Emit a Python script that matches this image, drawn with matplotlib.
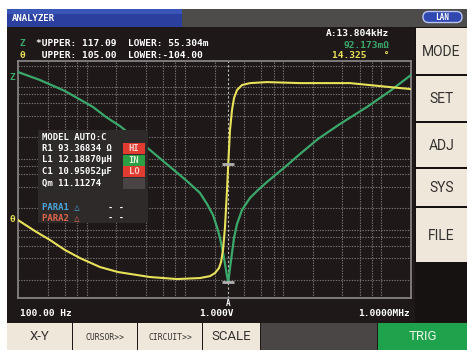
import matplotlib
matplotlib.use("Agg")
import matplotlib.pyplot as plt
from matplotlib.patches import Rectangle, FancyBboxPatch

# data
z_freq = [100, 167, 301, 580, 786, 1091, 1551, 2205, 3963, 5373, 7112, 8391, 9660, 10600,
          11380, 12210, 12790, 13400, 13804, 14380, 15070, 15800, 16950, 19050, 22960,
          27720, 34200, 52200, 74130, 113000, 189400, 356500, 611400, 1000000]
z_ohm = [82.0, 63.4, 44.4, 26.5, 19.2, 14.3, 9.73, 6.6, 3.35, 2.35, 1.65, 1.153, 0.808, 0.548,
         0.385, 0.240, 0.166, 0.113, 0.0922, 0.146, 0.237, 0.385, 0.604, 0.950, 1.40,
         1.81, 2.35, 3.81, 5.80, 9.42, 15.3, 26.5, 44.4, 74.5]

ph_freq = [100, 149, 212, 301, 428, 683, 1042, 2205, 4150, 7112, 8999, 10120, 11110, 11650,
           12210, 12790, 13410, 13804, 14380, 15070, 15800, 16950, 19050, 22960, 34200,
           74130, 239300, 610000, 1000000]
ph_deg = [-35.3, -45.0, -52.9, -61.7, -68.8, -76.7, -81.1, -85.5, -87.3, -86.4, -84.7, -82.0,
          -77.6, -72.3, -61.7, -41.4, -8.8, 14.3, 44.1, 61.7, 72.3, 79.4, 83.8, 85.5, 86.4,
          85.5, 85.5, 82.0, 80.2]

z_upper, z_lower = 117.09, 0.055304
ph_upper, ph_lower = 105.00, -104.00
cursor_f = 13804
cursor_z = 0.092173
cursor_ph = 14.325

model_lines = ["MODEL AUTO:C", "R1 93.36834 Ω", "L1 12.18870μH", "C1 10.95052μF", "Qm 11.11274"]
side_buttons = ["MODE", "SET", "ADJ", "SYS", "FILE"]

W, H = 467, 350
BG = "#1f1819"
GREEN = "#3aa86a"
YELLOW = "#e8e25a"
GRID = "#777373"
MONO = "DejaVu Sans Mono"
NARROW = ["Roboto", "DejaVu Sans"]

fig = plt.figure(figsize=(W / 100, H / 100), dpi=100)
fig.patch.set_facecolor("white")

# background / screen layer in pixel coordinates
bg = fig.add_axes([0, 0, 1, 1], zorder=0)
bg.set_xlim(0, W)
bg.set_ylim(H, 0)
bg.axis("off")


def rect(a, x0, y0, x1, y1, fc, ec="none", lw=0):
    a.add_patch(Rectangle((x0, y0), x1 - x0, y1 - y0, facecolor=fc, edgecolor=ec, linewidth=lw))


rect(bg, 7, 9, W, H, BG)
# title bar
rect(bg, 7, 9, 182, 27, "#2a3f9e")
rect(bg, 7, 9, 182, 14, "#3a55b8")
rect(bg, 182, 9, W, 27, "#4e4b4b")
bg.text(12, 18.5, "ANALYZER", color="white", fontsize=6.5, fontweight="bold",
        family=MONO, va="center", ha="left")
bg.add_patch(FancyBboxPatch((423, 11.5), 39, 11, boxstyle="round,pad=0,rounding_size=5.5",
                            facecolor="#3048b0", edgecolor="#b8c4f0", linewidth=1))
bg.text(442.5, 17.3, "LAN", color="white", fontsize=5.5, fontweight="bold",
        family=MONO, va="center", ha="center")

# right side buttons
rect(bg, 415, 27, W, 322, "#161212")
edges = [27, 75, 122, 168, 207, 263]
for i, lab in enumerate(side_buttons):
    rect(bg, 416, edges[i] + 1, W, edges[i + 1] - 1, "#efe8da")
    bg.text(441.5, (edges[i] + edges[i + 1]) / 2 + 0.5, lab, color="#333030", fontsize=10,
            family=NARROW, va="center", ha="center")

# bottom buttons
btns = [("X-Y", 7, 72, "#efe8da", "#333030", 9.5, NARROW),
        ("CURSOR>>", 73, 137, "#efe8da", "#333030", 5.8, MONO),
        ("CIRCUIT>>", 138, 202, "#efe8da", "#333030", 5.8, MONO),
        ("SCALE", 203, 260, "#efe8da", "#333030", 9.5, NARROW),
        ("", 261, 377, "#4a4646", "white", 9.5, NARROW),
        ("TRIG", 378, W, "#1ea24c", "#e8f5ea", 9.5, NARROW)]
for lab, x0, x1, fc, tc, fs, fam in btns:
    rect(bg, x0, 323, x1, H, fc)
    if lab:
        bg.text((x0 + x1) / 2, 337, lab, color=tc, fontsize=fs, family=fam,
                va="center", ha="center")

# header text
hdr = dict(fontsize=6.8, fontweight="bold", family=MONO, va="center")
bg.text(22, 44, "Z", color=GREEN, ha="center", **hdr)
bg.text(36, 44, "*UPPER: %.2f  LOWER: %.3fm" % (z_upper, z_lower * 1000), color="white", ha="left", **hdr)
bg.text(22, 56, "θ", color=YELLOW, ha="center", **hdr)
bg.text(36, 56, " UPPER: %.2f  LOWER:%.2f" % (ph_upper, ph_lower), color="white", ha="left", **hdr)
bg.text(389, 33, "A:%.3fkHz" % (cursor_f / 1000), color="white", ha="right", **hdr)
bg.text(389, 45, "%.3fmΩ" % (cursor_z * 1000), color=GREEN, ha="right", **hdr)
bg.text(389, 56, "%.3f   °" % cursor_ph, color=YELLOW, ha="right", **hdr)

# bottom labels
bg.text(20, 313, "100.00 Hz", color="white", ha="left", **hdr)
bg.text(216, 313, "1.000V", color="white", ha="center", **hdr)
bg.text(410, 313, "1.0000MHz", color="white", ha="right", **hdr)
bg.text(228.5, 304, "A", color="white", ha="center", fontsize=5.5, fontweight="bold", family=MONO, va="center")

# side markers
bg.text(12, 77, "Z", color=GREEN, ha="center", **hdr)
bg.text(12, 219, "θ", color=YELLOW, ha="center", **hdr)

# plot area
x0, y0, x1, y1 = 18, 61, 411, 298
ax = fig.add_axes([x0 / W, (H - y1) / H, (x1 - x0) / W, (y1 - y0) / H], zorder=1)
ax.set_facecolor(BG)
ax.set_xscale("log")
ax.set_yscale("log")
ax.set_xlim(100, 1e6)
ax.set_ylim(z_lower, z_upper)
for d in [100, 1000, 10000, 100000]:
    for k in [1, 2, 3, 4, 5]:
        if 100 < k * d < 1e6:
            ax.axvline(k * d, color=GRID, lw=0.8, ls=(0, (1.2, 1.2)), zorder=1)
for d in [0.01, 0.1, 1, 10, 100]:
    for k in [1, 2, 3, 4, 5]:
        if z_lower < k * d < z_upper:
            ax.axhline(k * d, color=GRID, lw=0.8, ls=(0, (1.2, 1.2)), zorder=1)
ax.axvline(cursor_f, color="#bdbdbd", lw=0.8, ls=(0, (2, 2)), zorder=2)
ax.plot(z_freq, z_ohm, color=GREEN, lw=1.6, zorder=3)
ax.plot([cursor_f], [cursor_z], marker="_", ms=8, mew=2, color="#b0b0b0", zorder=5)
ax.set_xticks([])
ax.set_yticks([])
ax.minorticks_off()
for s in ax.spines.values():
    s.set_color("#8e8a8a")
    s.set_linewidth(1.2)

ax2 = ax.twinx()
ax2.set_ylim(ph_lower, ph_upper)
ax2.plot(ph_freq, ph_deg, color=YELLOW, lw=1.5, zorder=3)
ax2.plot([cursor_f], [cursor_ph], marker="_", ms=8, mew=2, color="#b0b0b0", zorder=5)
ax2.set_yticks([])
ax2.set_xticks([])
ax2.minorticks_off()
for s in ax2.spines.values():
    s.set_visible(False)

# model box on top
fg = fig.add_axes([0, 0, 1, 1], zorder=5)
fg.set_xlim(0, W)
fg.set_ylim(H, 0)
fg.patch.set_alpha(0)
fg.axis("off")
rect(fg, 38, 130, 148, 223, "#2f2a2a")
box = dict(hdr, fontsize=6.4)
for i, line in enumerate(model_lines):
    fg.text(42, 137 + i * 11.5, line, color="white", ha="left", **box)
ind = [("HI", "#e03c32", "#f8d0c8"), ("IN", "#2c9e44", "#d8f0d8"), ("LO", "#e03c32", "#f8d0c8"), ("", "#4a4444", "white")]
for i, (lab, fc, tc) in enumerate(ind):
    ya = 143 + i * 11.5
    rect(fg, 123, ya, 145, ya + 11, fc)
    if lab:
        fg.text(134, ya + 5.7, lab, color=tc, ha="center", **box)
fg.text(42, 207, "PARA1 △", color="#4aa6dc", ha="left", **box)
fg.text(42, 218, "PARA2 △", color="#e0664e", ha="left", **box)
fg.text(108, 207, "- -", color="white", ha="left", **box)
fg.text(108, 218, "- -", color="white", ha="left", **box)

fig.savefig("out.png", dpi=100, facecolor="white")
